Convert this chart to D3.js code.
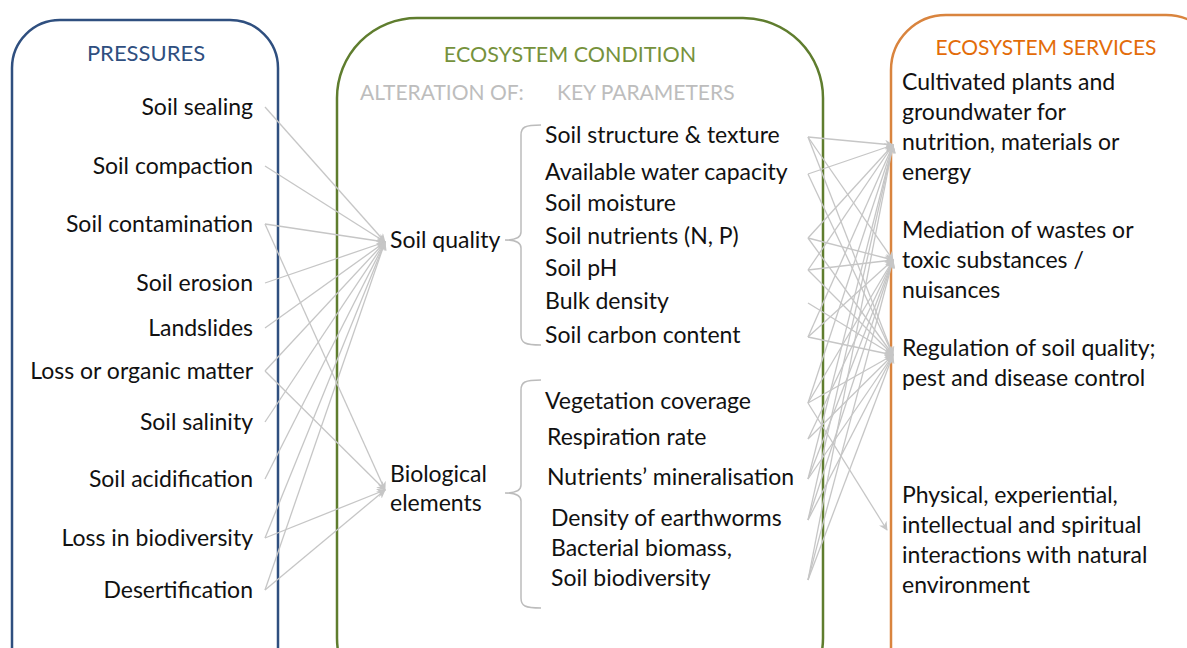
<!DOCTYPE html>
<html>
<head>
<meta charset="utf-8">
<script src="https://cdn.jsdelivr.net/npm/d3@7"></script>
<style>
  body { margin: 0; background: #fff; }
  svg { display: block; font-family: Lato, "Open Sans", sans-serif; }
</style>
</head>
<body>
<svg id="chart"></svg>
<script>
// data
const pressures = ['Soil sealing', 'Soil compaction', 'Soil contamination', 'Soil erosion', 'Landslides',
    'Loss or organic matter', 'Soil salinity', 'Soil acidification', 'Loss in biodiversity', 'Desertification'];
const conditions = [['Soil quality'], ['Biological', 'elements']];
const parameters = ['Soil structure & texture', 'Available water capacity', 'Soil moisture', 'Soil nutrients (N, P)',
    'Soil pH', 'Bulk density', 'Soil carbon content', 'Vegetation coverage', 'Respiration rate',
    'Nutrients\u2019 mineralisation', 'Density of earthworms', 'Bacterial biomass,', 'Soil biodiversity'];
const services = [
    ['Cultivated plants and', 'groundwater for', 'nutrition, materials or', 'energy'],
    ['Mediation of wastes or', 'toxic substances /', 'nuisances'],
    ['Regulation of soil quality;', 'pest and disease control'],
    ['Physical, experiential,', 'intellectual and spiritual', 'interactions with natural', 'environment']
];
// pressure index -> condition index
const leftLinks = [[0, 0], [1, 0], [2, 0], [2, 1], [3, 0], [4, 0], [5, 0], [5, 1], [6, 0], [7, 0], [8, 0], [8, 1], [9, 0], [9, 1]];
// parameter index -> service index
const rightLinks = [[0, 0], [0, 1], [0, 2], [1, 0], [1, 2], [3, 0], [3, 1], [3, 2], [4, 0], [4, 1], [4, 2], [5, 2],
    [6, 0], [6, 1], [6, 2], [7, 0], [7, 1], [7, 2], [7, 3], [8, 1], [8, 2], [9, 0], [9, 1], [9, 2],
    [10, 0], [10, 1], [10, 2], [12, 0], [12, 1], [12, 2]];

// layout
const width = 1187, height = 648;
const pressureRows = [107, 166, 224, 283, 328, 371, 422, 479, 538, 590];
const paramRows = [135, 172, 203, 236, 268, 301, 335, 401, 437, 477, 518, 548, 578];
const paramX = [545, 545, 545, 545, 545, 545, 545, 545, 547, 547, 551, 551, 551];
const conditionRows = [242, 490];
const serviceTops = [82, 230, 348, 495];
const serviceAnchor = [145, 260, 355, 530];
const lineGap = 30;
const fs = 23, dyText = 2;

const blue = '#2f4f7f', green = '#5f7d2e', orange = '#d9843e', grey = '#c6c6c6';

let svg = d3.select('#chart').attr('width', width).attr('height', height);

svg.append('defs').append('marker')
    .attr('id', 'arrow')
    .attr('viewBox', '0 0 10 10')
    .attr('refX', 9).attr('refY', 5)
    .attr('markerWidth', 9).attr('markerHeight', 9)
    .attr('markerUnits', 'userSpaceOnUse')
    .attr('orient', 'auto')
    .append('path')
    .attr('d', 'M0,0 L10,5 L0,10 L3,5 z')
    .attr('fill', grey);

// boxes
const boxes = [
    { x: 12, y: 20, w: 266, r: 48, c: blue },
    { x: 337, y: 18, w: 486, r: 80, c: green },
    { x: 891, y: 15, w: 330, r: 55, c: orange }
];
svg.selectAll('rect.box')
    .data(boxes)
    .enter()
    .append('rect')
    .attr('class', 'box')
    .attr('x', d => d.x).attr('y', d => d.y)
    .attr('width', d => d.w).attr('height', 700)
    .attr('rx', d => d.r).attr('ry', d => d.r)
    .attr('fill', 'none')
    .attr('stroke', d => d.c)
    .attr('stroke-width', 2.5);

// titles
const titles = [
    { t: 'PRESSURES', x: 146, y: 53, c: blue, s: 22 },
    { t: 'ECOSYSTEM CONDITION', x: 570, y: 55, c: '#76923c', s: 21.5 },
    { t: 'ECOSYSTEM SERVICES', x: 1046, y: 48, c: '#e36c09', s: 21 }
];
svg.selectAll('text.title')
    .data(titles)
    .enter()
    .append('text')
    .attr('class', 'title')
    .attr('x', d => d.x).attr('y', d => d.y + dyText)
    .attr('text-anchor', 'middle')
    .attr('dominant-baseline', 'middle')
    .attr('font-size', d => d.s)
    .attr('fill', d => d.c)
    .text(d => d.t);

svg.selectAll('text.sub')
    .data([['ALTERATION OF:', 360], ['KEY PARAMETERS', 557]])
    .enter()
    .append('text')
    .attr('class', 'sub')
    .attr('x', d => d[1]).attr('y', 93 + dyText)
    .attr('dominant-baseline', 'middle')
    .attr('font-size', 21)
    .attr('fill', '#bdbdbd')
    .text(d => d[0]);

// links
let linkGen = d3.line();
svg.append('g').selectAll('path')
    .data(leftLinks)
    .enter()
    .append('path')
    .attr('d', d => linkGen([[265, pressureRows[d[0]]], [385, conditionRows[d[1]]]]))
    .attr('fill', 'none')
    .attr('stroke', grey)
    .attr('stroke-width', 1.3)
    .attr('marker-end', 'url(#arrow)');

svg.append('g').selectAll('path')
    .data(rightLinks)
    .enter()
    .append('path')
    .attr('d', d => linkGen([[808, paramRows[d[0]] + 2], [d[1] == 3 ? 887 : 893, serviceAnchor[d[1]]]]))
    .attr('fill', 'none')
    .attr('stroke', grey)
    .attr('stroke-width', 1.3)
    .attr('marker-end', 'url(#arrow)');

// pressure labels
svg.selectAll('text.pressure')
    .data(pressures)
    .enter()
    .append('text')
    .attr('class', 'pressure')
    .attr('x', 253)
    .attr('y', (d, i) => pressureRows[i] + dyText)
    .attr('text-anchor', 'end')
    .attr('dominant-baseline', 'middle')
    .attr('font-size', fs)
    .attr('fill', '#111')
    .text(d => d);

// condition labels
conditions.forEach((lines, i) => {
    let t = svg.append('text')
        .attr('x', 390)
        .attr('y', conditionRows[i] - (lines.length - 1) * 29 / 2 - 2 + dyText)
        .attr('dominant-baseline', 'middle')
        .attr('font-size', fs)
        .attr('fill', '#111');
    lines.forEach((l, j) => t.append('tspan').attr('x', 390).attr('dy', j ? 29 : 0).text(l));
});

// braces
const braces = [[125, 345, 240], [380, 608, 493]];
svg.selectAll('path.brace')
    .data(braces)
    .enter()
    .append('path')
    .attr('class', 'brace')
    .attr('d', d => {
        let [top, bot, mid] = d;
        let x = 521;
        return `M${x + 20},${top} C${x + 4},${top} ${x},${top + 2} ${x},${top + 10} L${x},${mid - 8}` +
            ` C${x},${mid - 2} ${x - 6},${mid} ${x - 16},${mid} C${x - 6},${mid} ${x},${mid + 2} ${x},${mid + 8}` +
            ` L${x},${bot - 10} C${x},${bot - 2} ${x + 4},${bot} ${x + 20},${bot}`;
    })
    .attr('fill', 'none')
    .attr('stroke', '#bcbcbc')
    .attr('stroke-width', 1.5);

// parameter labels
svg.selectAll('text.param')
    .data(parameters)
    .enter()
    .append('text')
    .attr('class', 'param')
    .attr('x', (d, i) => paramX[i])
    .attr('y', (d, i) => paramRows[i] + dyText)
    .attr('dominant-baseline', 'middle')
    .attr('font-size', fs)
    .attr('fill', '#111')
    .text(d => d);

// service labels
services.forEach((lines, i) => {
    let t = svg.append('text')
        .attr('x', 902)
        .attr('y', serviceTops[i] + dyText)
        .attr('dominant-baseline', 'middle')
        .attr('font-size', fs)
        .attr('fill', '#111');
    lines.forEach((l, j) => t.append('tspan').attr('x', 902).attr('dy', j ? lineGap : 0).text(l));
});
</script>
</body>
</html>
